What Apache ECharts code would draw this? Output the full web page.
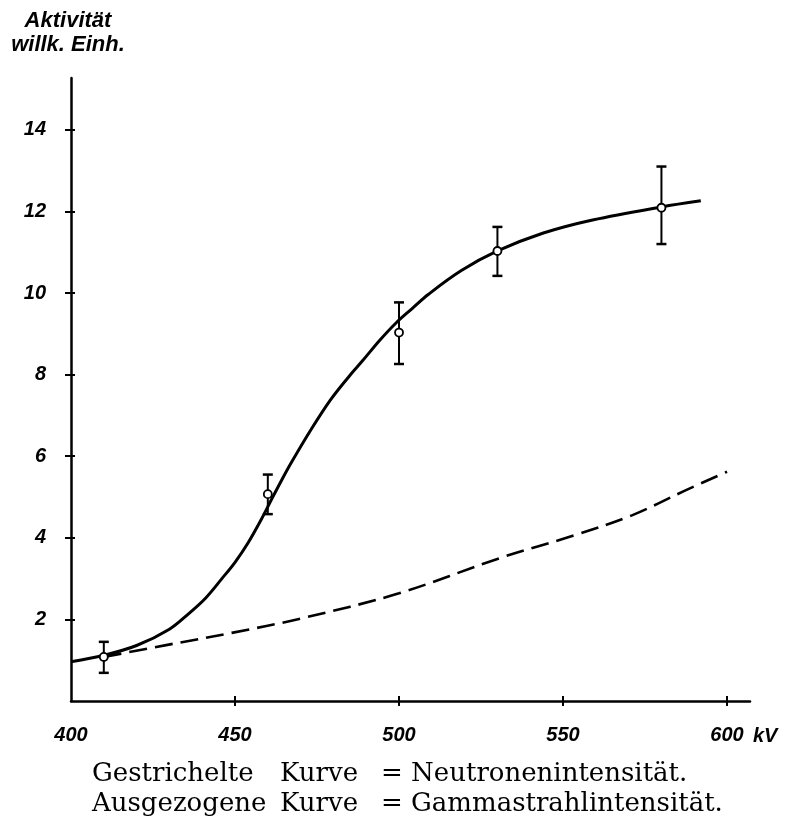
<!DOCTYPE html>
<html><head><meta charset="utf-8">
<script src="https://cdn.jsdelivr.net/npm/echarts@6/dist/echarts.min.js"></script>
<style>html,body{margin:0;padding:0;background:#fff}#c{width:788px;height:823px}</style>
</head><body><div id="c"></div>
<script>
// Tick labels
const xTickLabels = [400, 450, 500, 550, 600];
const xTickMarks = [450, 500, 550, 600];
const yTickLabels = [2, 4, 6, 8, 10, 12, 14];

// Measured points with error bars
const pointKV = [410, 460, 500, 530, 580];
const pointAct = [1.08, 5.07, 9.03, 11.03, 12.09];
const errLow = [0.69, 4.58, 8.26, 10.42, 11.2];
const errHigh = [1.45, 5.55, 9.77, 11.62, 13.1];

// Solid curve (Gammastrahlintensität)
const gammaKV = [400, 410, 420, 430, 436, 441, 446, 450, 454, 458, 461, 464, 467, 473, 479, 485, 489, 494, 499, 504, 509, 519, 530, 544, 559, 580, 592];
const gammaAct = [0.96, 1.12, 1.36, 1.76, 2.15, 2.52, 3.0, 3.4, 3.88, 4.45, 4.92, 5.38, 5.82, 6.63, 7.37, 7.98, 8.35, 8.83, 9.26, 9.62, 9.97, 10.55, 11.03, 11.47, 11.79, 12.11, 12.26];

// Dashed curve (Neutronenintensität)
const neutronKV = [410, 429, 449, 470, 500, 531, 553, 571, 587, 600];
const neutronAct = [1.08, 1.37, 1.67, 2.02, 2.64, 3.51, 4.05, 4.55, 5.15, 5.62];

const chart = echarts.init(document.getElementById('c'), null, {renderer: 'canvas'});

const tickFont = {fontFamily: 'Liberation Sans', fontStyle: 'italic', fontWeight: 'bold', fontSize: 20, color: '#000'};
const capFont = {fontFamily: 'DejaVu Serif', fontWeight: 'normal', fontSize: 26, color: '#000', lineHeight: 30};

chart.setOption({
  backgroundColor: '#fff',
  animation: false,
  title: [
    {
      text: 'Aktivität\nwillk. Einh.',
      left: 68, top: 9, padding: 0, textAlign: 'center',
      textStyle: {fontFamily: 'Liberation Sans', fontStyle: 'italic', fontWeight: 'bold', fontSize: 22, lineHeight: 24, color: '#000'}
    },
    {
      text: '{a|Gestrichelte}{b|Kurve}{c|= Neutronenintensität.}\n{a|Ausgezogene}{b|Kurve}{c|= Gammastrahlintensität.}',
      left: 92, top: 759, padding: 0,
      textStyle: {
        fontWeight: 'normal',
        rich: {
          a: Object.assign({width: 188}, capFont),
          b: Object.assign({width: 101}, capFont),
          c: Object.assign({}, capFont)
        }
      }
    }
  ],
  grid: {left: 71, right: 38, top: 78, bottom: 122, containLabel: false},
  xAxis: [
    {
      type: 'value', min: 400, max: 607, position: 'bottom',
      name: 'kV', nameLocation: 'end', nameGap: 3,
      nameTextStyle: Object.assign({align: 'left', verticalAlign: 'top', padding: [25, 0, 0, 0]}, tickFont),
      axisLine: {show: true, lineStyle: {color: '#000', width: 2.5}},
      axisTick: {show: true, customValues: xTickMarks, length: 5, lineStyle: {color: '#000', width: 2}},
      axisLabel: Object.assign({show: true, customValues: xTickLabels, margin: 24}, tickFont),
      splitLine: {show: false}
    },
    {
      type: 'value', min: 400, max: 607, position: 'bottom',
      axisLine: {show: false},
      axisTick: {show: true, inside: true, customValues: xTickMarks, length: 5, lineStyle: {color: '#000', width: 2}},
      axisLabel: {show: false},
      splitLine: {show: false}
    }
  ],
  yAxis: [
    {
      type: 'value', min: 0, max: 15.27, position: 'left',
      axisLine: {show: true, lineStyle: {color: '#000', width: 2.5}},
      axisTick: {show: true, customValues: yTickLabels, length: 6, lineStyle: {color: '#000', width: 2}},
      axisLabel: Object.assign({show: true, customValues: yTickLabels, margin: 25}, tickFont),
      splitLine: {show: false}
    },
    {
      type: 'value', min: 0, max: 15.27, position: 'left',
      axisLine: {show: false},
      axisTick: {show: true, inside: true, customValues: yTickLabels, length: 4, lineStyle: {color: '#000', width: 2}},
      axisLabel: {show: false},
      splitLine: {show: false}
    }
  ],
  series: [
    {
      name: 'Neutronenintensität', type: 'line', xAxisIndex: 0, yAxisIndex: 0,
      data: neutronKV.map((x, i) => [x, neutronAct[i]]),
      showSymbol: false, smooth: 0.35,
      lineStyle: {color: '#000', width: 2.6, type: [18, 8]}, z: 2
    },
    {
      name: 'Gammastrahlintensität', type: 'line', xAxisIndex: 0, yAxisIndex: 0,
      data: gammaKV.map((x, i) => [x, gammaAct[i]]),
      showSymbol: false, smooth: 0.35,
      lineStyle: {color: '#000', width: 3}, z: 3
    },
    {
      name: 'Fehler', type: 'custom', xAxisIndex: 0, yAxisIndex: 0,
      data: pointKV.map((x, i) => [x, errLow[i], errHigh[i]]),
      encode: {x: 0, y: [1, 2]},
      renderItem: function (params, api) {
        const lo = api.coord([api.value(0), api.value(1)]);
        const hi = api.coord([api.value(0), api.value(2)]);
        const w = 5;
        const st = {stroke: '#000', lineWidth: 2};
        return {type: 'group', children: [
          {type: 'line', shape: {x1: lo[0], y1: lo[1], x2: hi[0], y2: hi[1]}, style: st},
          {type: 'line', shape: {x1: lo[0] - w, y1: lo[1], x2: lo[0] + w, y2: lo[1]}, style: {stroke: '#000', lineWidth: 2.5}},
          {type: 'line', shape: {x1: hi[0] - w, y1: hi[1], x2: hi[0] + w, y2: hi[1]}, style: {stroke: '#000', lineWidth: 2.5}}
        ]};
      },
      z: 4
    },
    {
      name: 'Messpunkte', type: 'scatter', xAxisIndex: 0, yAxisIndex: 0,
      data: pointKV.map((x, i) => [x, pointAct[i]]),
      symbol: 'circle', symbolSize: 8,
      itemStyle: {color: '#fff', borderColor: '#000', borderWidth: 1.8, opacity: 1},
      z: 5
    }
  ]
});
</script>
</body></html>
